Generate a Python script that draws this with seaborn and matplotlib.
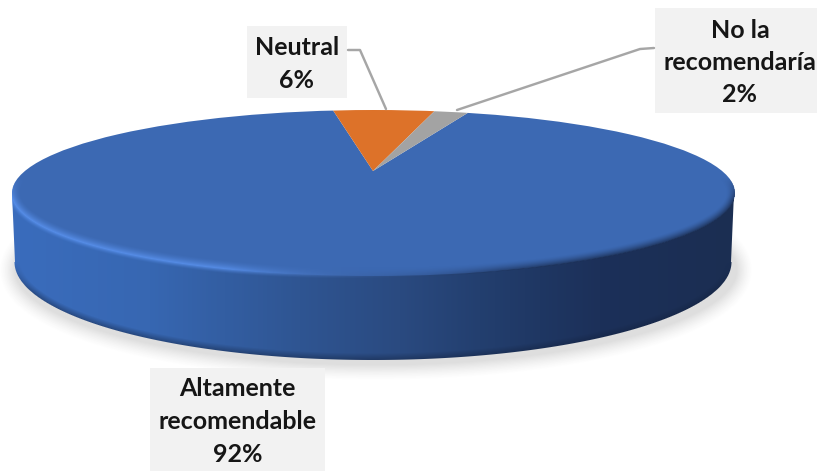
import numpy as np
import matplotlib
matplotlib.use("Agg")
import matplotlib.pyplot as plt
from matplotlib.patches import Rectangle
from matplotlib.path import Path
from matplotlib.transforms import Affine2D
import seaborn as sns

categories = ["Altamente\nrecomendable", "Neutral", "No la\nrecomendaría"]
values = [92, 6, 2]
slice_colors = ["#3c69b3", "#dd7229", "#a3a3a3"]

W, H = 817, 471
sns.set_theme(style="white")
plt.rcParams["font.family"] = ["Lato", "DejaVu Sans"]
fig = plt.figure(figsize=(W / 100, H / 100), dpi=100, facecolor="white")
sns.set_palette(slice_colors)

def pixel_axes(z):
    a = fig.add_axes([0, 0, 1, 1], zorder=z)
    a.set_xlim(0, W); a.set_ylim(H, 0); a.axis("off"); a.patch.set_alpha(0)
    return a

bg = pixel_axes(0)
pie_ax = fig.add_axes([0, 0, 1, 1], zorder=1)
fg = pixel_axes(2)

# Geometry of the disc in pixels
cx, cy, rx, ry = 373.5, 193.0, 361.5, 83.0
ax0, ay0 = 373.0, 171.0            # apex of the slices (perspective centre)
bcy, brx, bry = 262.0, 358.5, 98.0  # lower rim

X, Y = np.meshgrid(np.arange(W) + .5, np.arange(H) + .5)

def signed_dist(x0, y0, a, b):
    u, v = (X - x0) / a, (Y - y0) / b
    r = np.sqrt(u**2 + v**2) + 1e-9
    g = np.sqrt((u / a)**2 + (v / b)**2) / r + 1e-9
    return (1 - r) / g   # positive inside

def rgb(hexes):
    return np.array([matplotlib.colors.to_rgb(h) for h in hexes])

# soft shadow
sd = signed_dist(376, 270, 366, 100)
sh = 0.17 * np.clip((sd + 11) / 16, 0, 1)**1.4
shadow = np.dstack([np.full_like(X, .25)] * 3 + [sh])
bg.imshow(shadow, extent=(0, W, H, 0), aspect="auto", interpolation="bilinear", zorder=1)

# side wall
xs = [0, 20, 150, 300, 400, 480, 540, 600, 735, 817]
cols = rgb(["#3a6cbc", "#3a6cbc", "#3767b2", "#2f5592", "#2a4a80", "#233f6f",
            "#1f3763", "#1c3059", "#1b2e52", "#1b2e52"])
grad = np.dstack([np.interp(X, xs, cols[:, i]) for i in range(3)])
in_lower = signed_dist(cx - .5, bcy, brx, bry)
wall_left = cx - brx - (rx - brx) * np.clip((bcy - Y) / (bcy - cy), 0, 1)
wall_right = cx + brx - 1 + (rx - brx) * np.clip((bcy - Y) / (bcy - cy), 0, 1)
upper_a = np.clip(np.minimum(X - wall_left, wall_right - X) + .5, 0, 1) * (Y >= cy)
lower_a = np.clip(in_lower + .5, 0, 1)
mask_a = np.where(Y <= bcy, upper_a, lower_a)
mask = mask_a > 0
dark = (np.clip(1 - in_lower / 7, 0, 1) * np.clip((Y - bcy) / 30, 0, 1) * 0.45)[..., None]
wall = grad * (1 - dark) + rgb(["#12203c"])[0] * dark
bg.imshow(np.dstack([wall, mask_a]), extent=(0, W, H, 0), aspect="auto",
          interpolation="bilinear", zorder=2)
bg.set_xlim(0, W); bg.set_ylim(H, 0)

# Pie through the library: one unit is rx wide and 82 px tall around the apex
wedges, _ = pie_ax.pie(values, colors=slice_colors, startangle=69.7, counterclock=False,
                       radius=7, center=(0, 0), wedgeprops={"linewidth": 0})
pie_ax.set_aspect("auto")
pie_ax.set_xlim((0 - ax0) / rx, (W - ax0) / rx)
pie_ax.set_ylim(-(H - ay0) / 82.0, ay0 / 82.0)
pie_ax.patch.set_alpha(0)
pie_ax.axis("off")
clip_path = Path.unit_circle().transformed(
    Affine2D().scale(1, ry / 82.0).translate((cx - ax0) / rx, (ay0 - cy) / 82.0))
for w in wedges:
    w.set_clip_on(True)
    w.set_clip_path(clip_path, transform=pie_ax.transData)

# bevel along the front rim of the disc
d = signed_dist(cx, cy, rx, ry)
front = np.clip((Y - 178) / 22, 0, 1)
t = np.clip((X - 230) / 270, 0, 1)
light = rgb(["#5a92ee"])[0]; darkc = rgb(["#1b2e52"])[0]
rim_col = np.dstack([light[i] * (1 - t) + darkc[i] * t for i in range(3)])
in_w = 9.0
out_w = 5.0 * (1 - t) + 1.0 * t
prof = np.where(d >= 0, np.clip(1 - d / in_w, 0, 1), np.clip(1 + d / out_w, 0, 1))**1.6
strength = 0.85 - 0.45 * np.exp(-((X - 400) / 110)**2)
rim_a = prof * front * strength * (mask | (d > 0))
fg.imshow(np.dstack([rim_col, rim_a]), extent=(0, W, H, 0), aspect="auto", interpolation="bilinear", zorder=1)
fg.set_xlim(0, W); fg.set_ylim(H, 0)

# Labels
boxes = {"Altamente\nrecomendable": (150, 368, 175, 103, 0),
         "Neutral": (247, 26, 100, 72, 0),
         "No la\nrecomendaría": (655, 8, 162, 105, 4)}
for cat, val in zip(categories, values):
    x, y, w, h, shift = boxes[cat]
    fg.add_patch(Rectangle((x, y), w, h, fc="#f2f2f2", ec="none", zorder=3))
    fg.text(x + w / 2 + shift, y + h / 2 + 2, f"{cat}\n{val}%",
            ha="center", va="center", fontsize=18, fontweight="bold", color="#161616",
            linespacing=1.5, zorder=4)

leader = "#a6a6a6"
fg.plot([348, 360, 386], [50, 50, 109], color=leader, lw=1.75, zorder=3, solid_joinstyle="round")
fg.plot([654, 640, 457], [48, 49, 110], color=leader, lw=1.75, zorder=3, solid_joinstyle="round")

fig.savefig("out.png", dpi=100)
